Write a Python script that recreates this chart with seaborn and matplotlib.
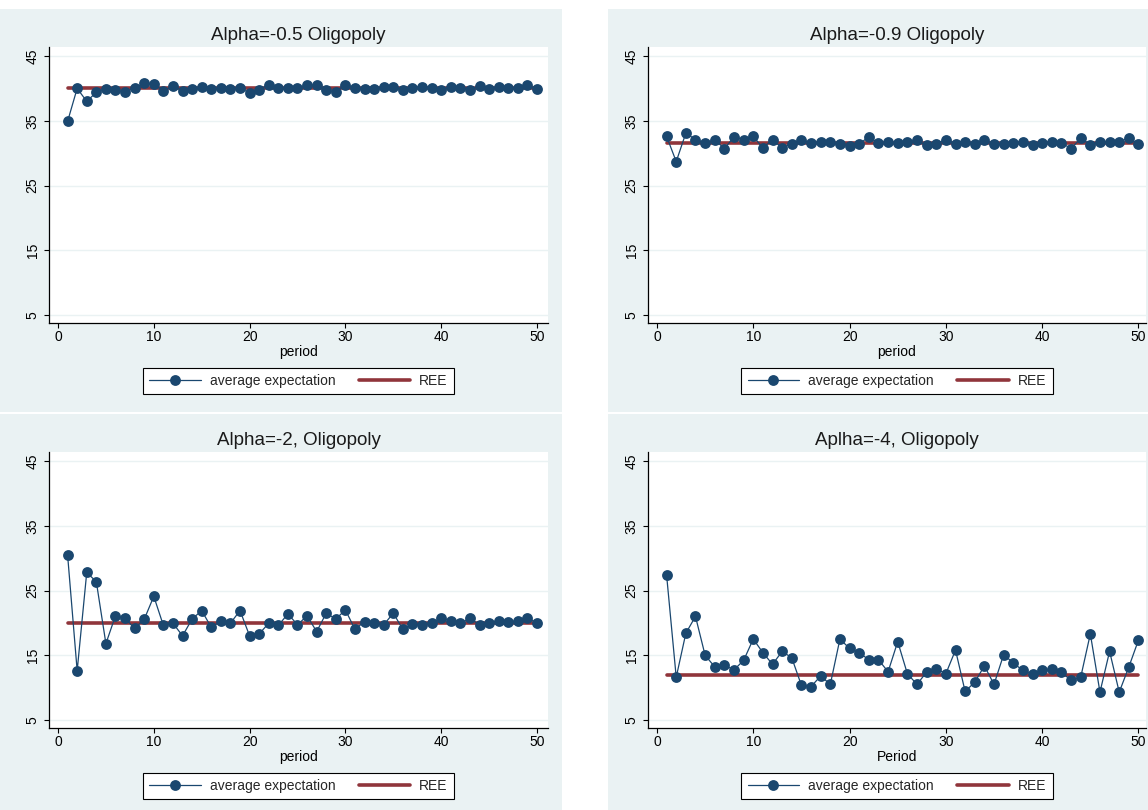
import numpy as np
import pandas as pd
import matplotlib
matplotlib.use("Agg")
import matplotlib.pyplot as plt
from matplotlib.lines import Line2D
from matplotlib.patches import Rectangle
import seaborn as sns

# ---- data -------------------------------------------------------------
period = np.arange(1, 51)

exp_a05 = [34.9, 40.0, 38.0, 39.4, 39.85, 39.7, 39.5, 40.0, 40.8, 40.7,
           39.6, 40.4, 39.6, 39.85, 40.15, 39.85, 40.05, 39.95, 40.0, 39.35,
           39.8, 40.6, 40.0, 40.0, 40.1, 40.5, 40.5, 39.7, 39.5, 40.6,
           40.1, 39.9, 39.9, 40.25, 40.25, 39.7, 40.1, 40.25, 40.1, 39.7,
           40.25, 40.1, 39.7, 40.4, 39.9, 40.25, 40.1, 40.1, 40.5, 39.85]

exp_a09 = [32.6, 28.7, 33.1, 32.1, 31.55, 32.1, 30.7, 32.5, 32.1, 32.6,
           30.8, 32.1, 30.8, 31.45, 32.1, 31.55, 31.8, 31.7, 31.45, 31.1,
           31.45, 32.5, 31.55, 31.7, 31.55, 31.8, 32.0, 31.2, 31.45, 32.1,
           31.45, 31.8, 31.35, 32.0, 31.45, 31.45, 31.6, 31.8, 31.3, 31.55,
           31.8, 31.6, 30.7, 32.3, 31.3, 31.8, 31.8, 31.8, 32.3, 31.45]

exp_a2 = [30.5, 12.6, 27.8, 26.35, 16.8, 21.1, 20.7, 19.15, 20.55, 24.1,
          19.6, 19.95, 18.0, 20.6, 21.9, 19.3, 20.3, 19.95, 21.9, 18.0,
          18.3, 19.95, 19.6, 21.4, 19.7, 21.1, 18.65, 21.5, 20.6, 22.0,
          19.0, 20.2, 19.95, 19.7, 21.5, 19.0, 19.8, 19.7, 20.05, 20.7,
          20.3, 19.95, 20.7, 19.7, 20.05, 20.3, 20.2, 20.3, 20.8, 19.95]

exp_a4 = [27.4, 11.6, 18.4, 21.0, 15.0, 13.2, 13.45, 12.75, 14.2, 17.5,
          15.4, 13.6, 15.6, 14.6, 10.35, 10.15, 11.8, 10.5, 17.5, 16.05,
          15.4, 14.3, 14.3, 12.45, 17.1, 12.15, 10.5, 12.4, 12.9, 12.15,
          15.8, 9.4, 10.85, 13.35, 10.5, 15.1, 13.8, 12.65, 12.15, 12.65,
          12.9, 12.4, 11.1, 11.6, 18.3, 9.3, 15.6, 9.3, 13.2, 17.35]

ree_values = [40.0, 31.58, 20.0, 12.0]

titles = ["Alpha=-0.5 Oligopoly", "Alpha=-0.9 Oligopoly",
          "Alpha=-2, Oligopoly", "Aplha=-4, Oligopoly"]
xlabels = ["period", "period", "period", "Period"]
legend_labels = ["average expectation", "REE"]
y_ticks = [5, 15, 25, 35, 45]
x_ticks = [0, 10, 20, 30, 40, 50]

series = [exp_a05, exp_a09, exp_a2, exp_a4]

# ---- style ------------------------------------------------------------
sns.set_theme(style="white")
plt.rcParams["font.family"] = ["Liberation Sans", "DejaVu Sans"]

NAVY = "#1a476f"
MAROON = "#90353b"
PANEL_BG = "#eaf2f3"
GRID = "#eaf2f3"

W, H = 1148, 810
fig = plt.figure(figsize=(W / 100, H / 100), dpi=100)
fig.patch.set_facecolor("white")

# panel backgrounds (pixel boxes: x0, y0, x1, y1 from top-left)
panels = [(0, 9, 562, 412), (608, 9, 1148, 412),
          (0, 414, 562, 810), (608, 414, 1148, 810)]
# plot regions (pixel boxes)
plots = [(49, 47, 548, 323), (648, 47, 1146, 323),
         (49, 452, 548, 728), (648, 452, 1146, 728)]
xlims = [(-0.94, 51.15), (-0.93, 50.78), (-0.94, 51.15), (-0.93, 50.78)]

for (x0, y0, x1, y1) in panels:
    fig.patches.append(Rectangle((x0 / W, 1 - y1 / H), (x1 - x0) / W, (y1 - y0) / H,
                                 transform=fig.transFigure, facecolor=PANEL_BG,
                                 edgecolor="none", zorder=-10))

for i in range(4):
    x0, y0, x1, y1 = plots[i]
    ax = fig.add_axes([x0 / W, 1 - y1 / H, (x1 - x0) / W, (y1 - y0) / H])
    ax.set_zorder(1)
    ax.set_facecolor("white")
    df = pd.DataFrame({"period": period, "expectation": series[i],
                       "ree": [ree_values[i]] * len(period)})

    sns.lineplot(data=df, x="period", y="ree", ax=ax, color=MAROON,
                 linewidth=2.6, zorder=3)
    sns.lineplot(data=df, x="period", y="expectation", ax=ax, color=NAVY,
                 linewidth=0.9, marker="o", markersize=7.8,
                 markeredgewidth=0, markerfacecolor=NAVY, zorder=4)

    ax.set_xlim(*xlims[i])
    ax.set_ylim(3.76, 46.4)
    ax.set_xticks(x_ticks)
    ax.set_yticks(y_ticks)
    ax.grid(axis="y", color=GRID, linewidth=1.0, zorder=1)
    ax.set_axisbelow(True)

    for s in ["top", "right"]:
        ax.spines[s].set_visible(False)
    for s in ["left", "bottom"]:
        ax.spines[s].set_color("black")
        ax.spines[s].set_linewidth(0.9)

    ax.tick_params(axis="both", direction="out", length=3.8, width=0.8,
                   colors="black", labelsize=10, left=True, bottom=True)
    ax.tick_params(axis="x", pad=1.5)
    ax.tick_params(axis="y", pad=3.0)
    for lab in ax.get_yticklabels():
        lab.set_rotation(90)
        lab.set_va("center")

    ax.set_xlabel(xlabels[i], fontsize=10, labelpad=0.5, color="black")
    ax.set_ylabel("")
    ax.set_title(titles[i], fontsize=13.5, pad=5, color="#1a1a1a")

    handles = [Line2D([0], [0], color=NAVY, linewidth=0.9, marker="o",
                      markersize=7.8, markeredgewidth=0),
               Line2D([0], [0], color=MAROON, linewidth=2.6)]
    cx = (x0 + x1) / 2 / W
    cy = 1 - (y1 + 58) / H
    leg = ax.legend(handles, legend_labels, loc="center",
                    bbox_to_anchor=(cx, cy), bbox_transform=fig.transFigure,
                    ncol=2, fontsize=10, frameon=True, fancybox=False,
                    edgecolor="black", handlelength=3.7, handletextpad=0.65,
                    columnspacing=1.7, borderpad=0.45)
    leg.get_frame().set_linewidth(0.8)
    leg.get_frame().set_facecolor("white")
    leg.get_frame().set_alpha(1)

fig.savefig("out.png", dpi=100, facecolor="white")
